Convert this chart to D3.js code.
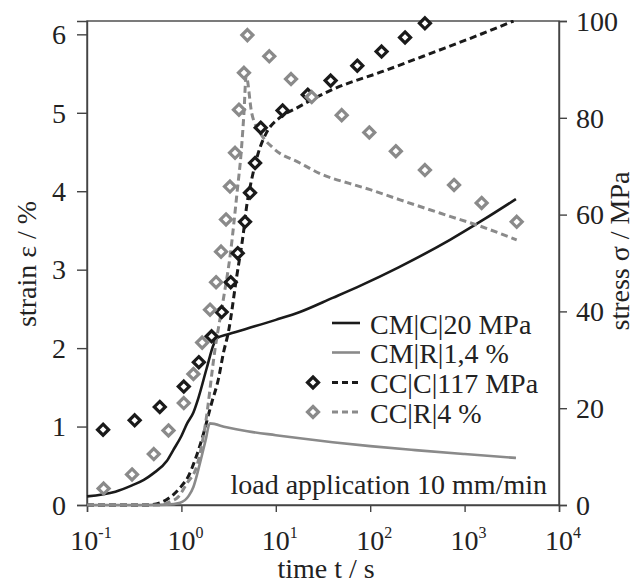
<!DOCTYPE html>
<html>
<head>
<meta charset="utf-8">
<script src="https://cdn.jsdelivr.net/npm/d3@7"></script>
<style>
  body { margin: 0; background: #fff; }
  text { font-family: "Liberation Serif", "Times New Roman", serif; fill: #222; }
</style>
</head>
<body>
<div id="elements"></div>
<script>
// time axis decades and the two y axes
var timeTicks = [0.1, 1, 10, 100, 1000, 10000];
var timeTickExp = ["-1", "0", "1", "2", "3", "4"];
var strainTicks = [0, 1, 2, 3, 4, 5, 6];
var stressTicks = [0, 20, 40, 60, 80, 100];

// CM|C|20 MPa (black solid)
var cmCreepT = [0.1, 0.2, 0.3, 0.4, 0.5, 0.7, 0.82, 1.0, 1.15, 1.34, 1.51, 1.85, 2.2, 2.4, 3, 5, 10, 18, 40, 80, 200, 700, 1600, 3500];
var cmCreepE = [0.11, 0.17, 0.25, 0.32, 0.4, 0.56, 0.7, 0.88, 1.04, 1.18, 1.36, 1.74, 2.05, 2.13, 2.17, 2.25, 2.36, 2.46, 2.64, 2.8, 3.03, 3.38, 3.64, 3.9];

// CM|R|1,4 % (grey solid)
var cmRelaxT = [0.1, 0.4, 0.7, 0.97, 1.2, 1.34, 1.57, 1.8, 2.0, 3, 5, 10, 18, 40, 100, 300, 1000, 3500];
var cmRelaxE = [0, 0, 0.005, 0.03, 0.12, 0.23, 0.53, 0.82, 1.04, 0.99, 0.94, 0.89, 0.85, 0.8, 0.75, 0.7, 0.65, 0.6];

// CC|C|117 MPa (black dashed + black diamonds)
var ccCreepT = [0.1, 0.43, 0.6, 0.8, 1.0, 1.18, 1.4, 1.64, 2.09, 2.46, 2.8, 3.14, 3.85, 4.54, 4.9, 5.55, 6.53, 8.0, 11.1, 16.6, 40.6, 138, 467, 1340, 3300];
var ccCreepE = [0, 0, 0.03, 0.12, 0.24, 0.36, 0.58, 0.83, 1.3, 1.6, 1.95, 2.2, 2.91, 3.47, 3.8, 4.15, 4.49, 4.75, 4.94, 5.06, 5.3, 5.53, 5.77, 5.98, 6.17];
var ccCreepMarkT = [0.148, 0.32, 0.59, 1.06, 1.53, 2.09, 2.67, 3.33, 3.95, 4.72, 5.33, 6.03, 6.92, 11.8, 21.8, 38.1, 73, 132, 234, 380];
var ccCreepMarkE = [0.96, 1.08, 1.25, 1.51, 1.82, 2.15, 2.46, 2.84, 3.21, 3.61, 3.98, 4.36, 4.81, 5.03, 5.23, 5.41, 5.6, 5.78, 5.96, 6.14];

// CC|R|4 % (grey dashed + grey diamonds)
var ccRelaxT = [0.1, 0.6, 0.75, 0.92, 1.15, 1.46, 1.78, 2.28, 2.78, 3.3, 3.9, 4.3, 4.6, 4.85, 5.55, 6.8, 9.4, 18, 30, 60, 100, 207, 700, 1500, 3565];
var ccRelaxE = [0, 0, 0.04, 0.1, 0.28, 0.5, 1.0, 2.0, 2.62, 3.2, 4.0, 4.5, 5.0, 5.47, 5.0, 4.75, 4.55, 4.36, 4.22, 4.1, 4.02, 3.89, 3.68, 3.55, 3.38];
var ccRelaxMarkT = [0.15, 0.3, 0.51, 0.73, 1.06, 1.34, 1.66, 2.01, 2.33, 2.63, 2.97, 3.27, 3.7, 4.07, 4.6, 5.0, 8.53, 14.5, 24, 49.9, 97.8, 187, 380, 773, 1515, 3565];
var ccRelaxMarkE = [0.21, 0.39, 0.65, 0.95, 1.3, 1.67, 2.07, 2.49, 2.84, 3.23, 3.64, 4.06, 4.49, 5.04, 5.51, 5.99, 5.72, 5.43, 5.2, 4.97, 4.75, 4.51, 4.27, 4.08, 3.85, 3.61];

var legendLabels = ["CM|C|20 MPa", "CM|R|1,4 %", "CC|C|117 MPa", "CC|R|4 %"];
var noteText = "load application 10 mm/min";

var width = 636, height = 583;
var plotLeft = 87, plotRight = 559, plotTop = 21, plotBottom = 505;
var black = "#1a1a1a", grey = "#8a8a8a", axisColor = "#444";
var fontSize = 28;

var svg = d3.select("#elements").append("svg")
    .attr("width", width)
    .attr("height", height);

var x = d3.scaleLog().domain([0.1, 10000]).range([plotLeft, plotRight]);
var y = d3.scaleLinear().domain([0, 6.17]).range([plotBottom, plotTop]);
var yStress = d3.scaleLinear().domain([0, 100]).range([plotBottom, plotTop]);

// frame
svg.append("rect")
    .attr("x", plotLeft).attr("y", plotTop)
    .attr("width", plotRight - plotLeft).attr("height", plotBottom - plotTop)
    .attr("fill", "none")
    .attr("stroke", axisColor)
    .attr("stroke-width", 1.4);

// axes
var xAxis = svg.append("g")
    .attr("transform", "translate(0," + plotBottom + ")")
    .call(d3.axisBottom(x).tickValues(timeTicks).tickSize(7).tickFormat(""));
var yAxis = svg.append("g")
    .attr("transform", "translate(" + plotLeft + ",0)")
    .call(d3.axisLeft(y).tickValues(strainTicks).tickSize(10).tickFormat(""));
var y2Axis = svg.append("g")
    .attr("transform", "translate(" + plotRight + ",0)")
    .call(d3.axisRight(yStress).tickValues(stressTicks).tickSize(8).tickFormat(""));

[xAxis, yAxis, y2Axis].forEach(function(a) {
    a.select(".domain").attr("stroke", axisColor).attr("stroke-width", 1.4);
    a.selectAll(".tick line").attr("stroke", axisColor).attr("stroke-width", 1.4);
});

// tick labels
svg.append("g").selectAll("text")
    .data(strainTicks)
    .enter().append("text")
    .attr("x", plotLeft - 21)
    .attr("y", function(d) { return y(d); })
    .attr("dy", "0.35em")
    .attr("text-anchor", "end")
    .attr("font-size", fontSize)
    .text(function(d) { return d; });

svg.append("g").selectAll("text")
    .data(stressTicks)
    .enter().append("text")
    .attr("x", plotRight + 17)
    .attr("y", function(d) { return yStress(d); })
    .attr("dy", "0.35em")
    .attr("text-anchor", "start")
    .attr("font-size", fontSize)
    .text(function(d) { return d; });

var xLabels = svg.append("g").selectAll("text")
    .data(timeTicks)
    .enter().append("text")
    .attr("x", function(d) { return x(d) + 4; })
    .attr("y", 550)
    .attr("text-anchor", "middle")
    .attr("font-size", fontSize);
xLabels.append("tspan").text("10");
xLabels.append("tspan")
    .attr("dy", -12)
    .attr("font-size", 16)
    .text(function(d, i) { return timeTickExp[i]; });

// axis titles
svg.append("text")
    .attr("x", 326).attr("y", 578)
    .attr("text-anchor", "middle")
    .attr("font-size", fontSize)
    .text("time t / s");
svg.append("text")
    .attr("transform", "translate(36,264) rotate(-90)")
    .attr("text-anchor", "middle")
    .attr("font-size", fontSize)
    .text("strain ε / %");
svg.append("text")
    .attr("transform", "translate(629,251) rotate(-90)")
    .attr("text-anchor", "middle")
    .attr("font-size", fontSize)
    .text("stress σ / MPa");

// series
var line = d3.line()
    .x(function(d) { return x(d[0]); })
    .y(function(d) { return y(d[1]); })
    .curve(d3.curveMonotoneX);

var series = [
    {t: cmCreepT, e: cmCreepE, color: black, dash: null, mt: null},
    {t: cmRelaxT, e: cmRelaxE, color: grey, dash: null, mt: null},
    {t: ccCreepT, e: ccCreepE, color: black, dash: "7,4", mt: ccCreepMarkT, me: ccCreepMarkE},
    {t: ccRelaxT, e: ccRelaxE, color: grey, dash: "7,4", mt: ccRelaxMarkT, me: ccRelaxMarkE}
];

var plot = svg.append("g");

series.forEach(function(s) {
    var pts = s.t.map(function(t, i) { return [t, s.e[i]]; });
    plot.append("path")
        .datum(pts)
        .attr("d", line)
        .attr("fill", "none")
        .attr("stroke", s.color)
        .attr("stroke-width", s.dash ? 3 : 2.6)
        .attr("stroke-dasharray", s.dash);
});

var diamond = "M0,-5.5L5.5,0L0,5.5L-5.5,0Z";

series.forEach(function(s) {
    if (!s.mt) return;
    plot.append("g").selectAll("path")
        .data(s.mt.map(function(t, i) { return [t, s.me[i]]; }))
        .enter().append("path")
        .attr("d", diamond)
        .attr("transform", function(d) { return "translate(" + x(d[0]) + "," + y(d[1]) + ")"; })
        .attr("fill", "#fff")
        .attr("stroke", s.color)
        .attr("stroke-width", 3.2);
});

// legend
var legend = svg.append("g");
var rowY = [323, 352.5, 382.5, 412];
series.forEach(function(s, i) {
    legend.append("line")
        .attr("x1", 332).attr("x2", 360)
        .attr("y1", rowY[i]).attr("y2", rowY[i])
        .attr("stroke", s.color)
        .attr("stroke-width", s.dash ? 3 : 2.6)
        .attr("stroke-dasharray", s.dash ? "6,4" : null);
    if (s.mt) {
        legend.append("path")
            .attr("d", diamond)
            .attr("transform", "translate(313," + rowY[i] + ")")
            .attr("fill", "#fff")
            .attr("stroke", s.color)
            .attr("stroke-width", 3.2);
    }
    legend.append("text")
        .attr("x", 370).attr("y", rowY[i])
        .attr("dy", "0.38em")
        .attr("font-size", fontSize)
        .text(legendLabels[i]);
});

svg.append("text")
    .attr("x", 547).attr("y", 494)
    .attr("text-anchor", "end")
    .attr("font-size", fontSize)
    .text(noteText);
</script>
</body>
</html>
